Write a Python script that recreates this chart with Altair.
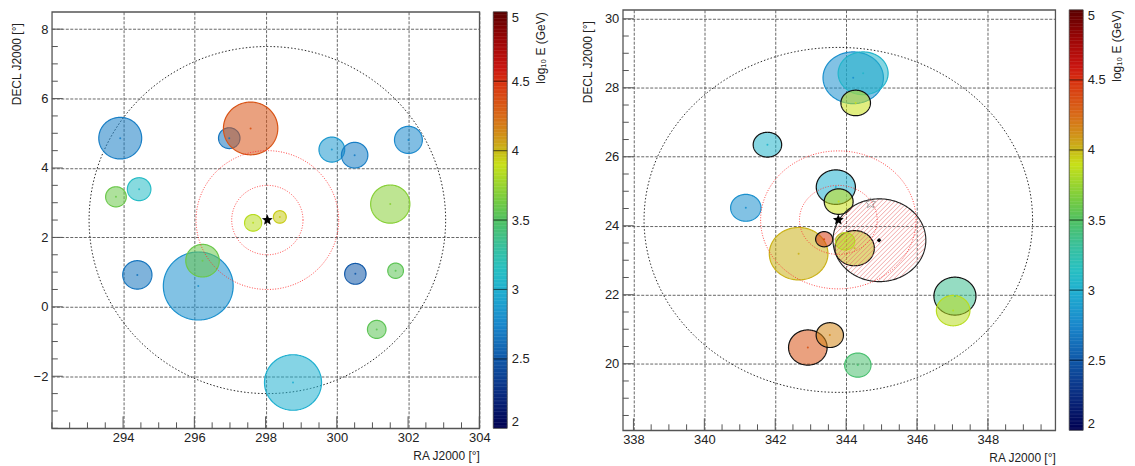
import numpy as np
import pandas as pd
import altair as alt

FONT = "Liberation Sans"

# ---------------- colour palette (log10 E) ----------------
PAL_STOPS = [2.0, 2.25, 2.5, 2.75, 3.0, 3.15, 3.3, 3.5, 3.65, 3.8, 3.9, 4.0, 4.1, 4.25, 4.5, 4.6, 4.8, 5.0]
PAL_COLORS = ["#000050", "#0a2c80", "#1058a8", "#1a88cc", "#20b0d0", "#28c0c0", "#38c0a0",
              "#50c060", "#78cc40", "#a8d828", "#c8e018", "#c8b818", "#d09418", "#d86a18",
              "#d83010", "#c81410", "#9a0606", "#5a0000"]
CB_LABELS = [2, 2.5, 3, 3.5, 4, 4.5, 5]
CB_LINES = [2.5, 3, 3.5, 4, 4.5]

# ---------------- left panel ----------------
L_ra = [293.92, 296.98, 297.58, 293.80, 294.45, 297.65, 298.40, 299.86, 300.50,
        302.01, 301.50, 294.40, 296.11, 296.23, 298.77, 300.52, 301.65, 301.12]
L_dec = [4.86, 4.86, 5.14, 3.17, 3.39, 2.42, 2.59, 4.53, 4.37,
         4.81, 2.96, 0.92, 0.60, 1.33, -2.18, 0.95, 1.04, -0.65]
L_r = [0.60, 0.30, 0.76, 0.29, 0.33, 0.24, 0.18, 0.36, 0.37,
       0.39, 0.55, 0.41, 0.98, 0.47, 0.80, 0.30, 0.22, 0.26]
L_logE = [2.70, 2.65, 4.35, 3.60, 3.10, 3.85, 3.95, 2.85, 2.70,
          2.75, 3.70, 2.65, 2.80, 3.60, 3.00, 2.50, 3.55, 3.55]
L_ring = [0] * 18
L_src = (298.05, 2.50)
L_xdom = [292.0, 304.0]
L_ydom = [-3.5, 8.5]
L_xlab = [294, 296, 298, 300, 302, 304]
L_ylab = [-2, 0, 2, 4, 6, 8]

# ---------------- right panel ----------------
R_ra = [344.20, 344.48, 344.27, 341.78, 341.17, 343.71, 343.79, 342.66, 343.38,
        344.24, 343.97, 342.92, 343.54, 344.33, 347.07, 347.02]
R_dec = [28.29, 28.42, 27.56, 26.35, 24.52, 25.12, 24.70, 23.19, 23.61,
         23.35, 23.55, 20.47, 20.83, 19.96, 21.96, 21.54]
R_r = [0.75, 0.62, 0.37, 0.36, 0.39, 0.50, 0.37, 0.76, 0.22,
       0.51, 0.25, 0.51, 0.36, 0.35, 0.55, 0.44]
R_logE = [2.80, 3.05, 3.90, 3.05, 2.80, 3.00, 3.90, 4.02, 4.45,
          4.00, 3.85, 4.35, 4.15, 3.45, 3.35, 3.85]
R_ring = [0, 0, 1, 1, 0, 1, 1, 0, 1, 1, 0, 1, 1, 0, 1, 0]
R_src = (343.78, 24.17)
R_hatch = (344.94, 23.58, 1.2)
R_star2 = (344.69, 24.65)
R_diamond = (344.93, 23.58)
R_xdom = [337.7, 349.9]
R_ydom = [18.07, 30.26]
R_xlab = [338, 340, 342, 344, 346, 348]
R_ylab = [20, 22, 24, 26, 28, 30]

ROI_R = 5.0
RED_R = [1.0, 2.0]

CS = alt.Scale(domain=PAL_STOPS, range=PAL_COLORS, interpolate="rgb", clamp=True)


def star_path(r_in=0.45):
    pts = []
    for k in range(10):
        ang = -np.pi / 2 + k * np.pi / 5
        rad = 1.0 if k % 2 == 0 else r_in
        pts.append(f"{rad*np.cos(ang):.3f},{rad*np.sin(ang):.3f}")
    return "M" + "L".join(pts) + "Z"


STAR = star_path()


def area_df(ra, dec, r, v, ring, n=90):
    rows = []
    t = np.linspace(0, np.pi, n)
    for i, (cx, cy, rr, vv, rg) in enumerate(zip(ra, dec, r, v, ring)):
        a = rr / np.cos(np.radians(cy))
        for tt in t:
            rows.append(dict(id=i, v=vv, ring=rg, x=cx + a * np.cos(tt),
                             y=cy + rr * np.sin(tt), y2=cy - rr * np.sin(tt)))
    return pd.DataFrame(rows)


def ring_df(cx, cy, radii, n=361):
    rows = []
    t = np.linspace(0, 2 * np.pi, n)
    for j, rr in enumerate(radii):
        a = rr / np.cos(np.radians(cy))
        for i, tt in enumerate(t):
            rows.append(dict(id=j, i=i, x=cx + a * np.cos(tt), y=cy + rr * np.sin(tt)))
    return pd.DataFrame(rows)


def hatch_df(cx, cy, r, xdom, ydom, W, H, d=3.2):
    sx = W / (xdom[1] - xdom[0])
    sy = H / (ydom[1] - ydom[0])
    A = r / np.cos(np.radians(cy)) * sx
    B = r * sy
    p = 1 / A**2 + 1 / B**2
    cmax = np.sqrt(A**2 + B**2)
    rows = []
    for c in np.arange(-cmax, cmax, d * np.sqrt(2)):
        q = 2 * c / B**2
        s = c**2 / B**2 - 1
        disc = q * q - 4 * p * s
        if disc <= 0:
            continue
        u1 = (-q - np.sqrt(disc)) / (2 * p)
        u2 = (-q + np.sqrt(disc)) / (2 * p)
        rows.append(dict(x=cx + u1 / sx, y=cy + (u1 + c) / sy,
                         x2=cx + u2 / sx, y2=cy + (u2 + c) / sy))
    return pd.DataFrame(rows)


def panel(ra, dec, r, v, ring, src, xdom, ydom, xlab, ylab, W, H, extras=None):
    xs = alt.Scale(domain=xdom, nice=False, zero=False)
    ys = alt.Scale(domain=ydom, nice=False, zero=False)
    common = dict(grid=True, gridColor="#555555", gridDash=[3, 1.5], gridWidth=0.9,
                  ticks=False, domain=False, labelFontSize=13, labelColor="#222222",
                  labelFont=FONT, titleFont=FONT, titleFontWeight="normal",
                  titleColor="#222222", labelFlush=False, labelOverlap=False)
    xax = alt.Axis(values=xlab, title="RA J2000 [°]", titleFontSize=12,
                   titleAnchor="end", titleAlign="right", labelPadding=3,
                   titlePadding=6, **common)
    yax = alt.Axis(values=ylab, title="DECL J2000 [°]", titleFontSize=12,
                   titleAnchor="end", titleAlign="right", titleY=11,
                   labelPadding=4, titlePadding=10, **common)
    X = alt.X("x:Q", scale=xs, axis=xax)
    Y = alt.Y("y:Q", scale=ys, axis=yax)

    roi = alt.Chart(ring_df(src[0], src[1], [ROI_R])).mark_line(
        color="#111111", strokeDash=[1.5, 2], strokeWidth=0.9
    ).encode(x=X, y=Y, order="i:Q")

    areas = alt.Chart(area_df(ra, dec, r, v, ring)).mark_area(
        orient="vertical", fillOpacity=0.55, strokeWidth=1.2
    ).encode(
        x=X, y=Y, y2="y2:Q",
        fill=alt.Fill("v:Q", scale=CS, legend=None),
        stroke=alt.condition(alt.datum.ring == 1, alt.value("#111111"),
                             alt.Stroke("v:Q", scale=CS, legend=None)),
        detail="id:N",
    )

    cdf = pd.DataFrame(dict(x=ra, y=dec, v=v))
    dots = alt.Chart(cdf).mark_point(filled=True, size=4, opacity=0.9).encode(
        x=X, y=Y, color=alt.Color("v:Q", scale=CS, legend=None))

    layers = [roi, areas, dots]

    if extras is not None:
        hx, hy, hr = extras["hatch"]
        hd = hatch_df(hx, hy, hr, xdom, ydom, W, H)
        hatch = alt.Chart(hd).mark_rule(color="#e86a6a", strokeWidth=0.7, opacity=0.85).encode(
            x=X, y=Y, x2="x2:Q", y2="y2:Q")
        hring = alt.Chart(ring_df(hx, hy, [hr])).mark_line(
            color="#222222", strokeWidth=1.1).encode(x=X, y=Y, order="i:Q")
        layers += [hatch, hring]

    red = alt.Chart(ring_df(src[0], src[1], RED_R)).mark_line(
        color="#ff3030", strokeDash=[1, 1.6], strokeWidth=0.9
    ).encode(x=X, y=Y, detail="id:N", order="i:Q")
    layers.append(red)

    if extras is not None:
        s2 = pd.DataFrame(dict(x=[extras["star2"][0]], y=[extras["star2"][1]]))
        layers.append(alt.Chart(s2).mark_point(shape=STAR, size=120, filled=False,
                                               color="#888888", strokeWidth=1).encode(x=X, y=Y))
        dm = pd.DataFrame(dict(x=[extras["diamond"][0]], y=[extras["diamond"][1]]))
        layers.append(alt.Chart(dm).mark_point(shape="diamond", size=22, filled=True,
                                               color="black", opacity=1).encode(x=X, y=Y))

    sdf = pd.DataFrame(dict(x=[src[0]], y=[src[1]]))
    layers.append(alt.Chart(sdf).mark_point(shape=STAR, size=130, filled=True,
                                            color="black", opacity=1).encode(x=X, y=Y))

    # inward ticks (ROOT style)
    xmin = [t for t in np.arange(np.ceil(xdom[0] * 2) / 2, xdom[1], 0.5) if t not in xlab]
    ymin = [t for t in np.arange(np.ceil(ydom[0] * 2) / 2, ydom[1], 0.5) if t not in ylab]
    tk = dict(color="#555555", strokeWidth=1)
    layers.append(alt.Chart(pd.DataFrame(dict(x=xmin))).mark_rule(**tk).encode(
        x=X, y=alt.value(H), y2=alt.value(H - 6)))
    layers.append(alt.Chart(pd.DataFrame(dict(x=xlab))).mark_rule(**tk).encode(
        x=X, y=alt.value(H), y2=alt.value(H - 12)))
    layers.append(alt.Chart(pd.DataFrame(dict(y=ymin))).mark_rule(**tk).encode(
        y=Y, x=alt.value(0), x2=alt.value(6)))
    layers.append(alt.Chart(pd.DataFrame(dict(y=ylab))).mark_rule(**tk).encode(
        y=Y, x=alt.value(0), x2=alt.value(11)))

    return alt.layer(*layers).properties(
        width=W, height=H,
        view=alt.ViewBackground(stroke="#555555", strokeWidth=1.3))


def colorbar(H, Wtot, barw=14):
    lo = np.round(np.arange(2.0, 5.0, 0.01), 3)
    df = pd.DataFrame(dict(lo=lo, hi=np.minimum(lo + 0.013, 5.0), mid=lo + 0.005))
    ys = alt.Scale(domain=[2, 5], nice=False, zero=False)
    ax = alt.Axis(orient="right", offset=-(Wtot - barw), values=CB_LABELS, format="~g",
                  ticks=False, domain=False, grid=False, labelFontSize=13,
                  labelColor="#222222", labelFont=FONT, labelPadding=4,
                  labelFlush=True, labelFlushOffset=0, labelOverlap=False,
                  title="log₁₀ E (GeV)", titleFont=FONT, titleFontSize=12,
                  titleFontWeight="normal", titleColor="#222222", titleAngle=270,
                  titleAnchor="end", titleAlign="right", titleBaseline="top",
                  titlePadding=6)
    Y = alt.Y("lo:Q", scale=ys, axis=ax)
    bar = alt.Chart(df).mark_rect().encode(
        x=alt.value(0), x2=alt.value(barw),
        y=Y, y2="hi:Q",
        color=alt.Color("mid:Q", scale=CS, legend=None))
    lines = alt.Chart(pd.DataFrame(dict(lo=CB_LINES))).mark_rule(
        color="black", opacity=0.55, strokeWidth=1.2).encode(
        x=alt.value(0), x2=alt.value(barw), y=Y)
    border = alt.Chart(pd.DataFrame(dict(lo=[2]))).mark_rect(
        fill="transparent", stroke="#444444", strokeWidth=0.8).encode(
        x=alt.value(0), x2=alt.value(barw), y=alt.value(0), y2=alt.value(H))
    return alt.layer(bar, lines, border).properties(
        width=Wtot, height=H,
        view=alt.ViewBackground(stroke="transparent", strokeWidth=0))


LW, LH = 429, 418
RW, RH = 434, 422
GAP = 14
CBL_W = 116

left = panel(L_ra, L_dec, L_r, L_logE, L_ring, L_src, L_xdom, L_ydom, L_xlab, L_ylab, LW, LH)
right = panel(R_ra, R_dec, R_r, R_logE, R_ring, R_src, R_xdom, R_ydom, R_xlab, R_ylab, RW, RH,
              extras=dict(hatch=R_hatch, star2=R_star2, diamond=R_diamond))

chart = alt.hconcat(
    left, colorbar(LH, CBL_W), right, colorbar(RH, 14),
    spacing=GAP, bounds="flush", center=True,
).resolve_scale(
    color="independent", fill="independent", stroke="independent"
).properties(
    padding={"left": 1, "top": 0, "right": 4, "bottom": 2}
).configure_view(stroke="transparent").configure(font=FONT)

chart.save("out.html", embed_options={"renderer": "svg", "actions": False})
